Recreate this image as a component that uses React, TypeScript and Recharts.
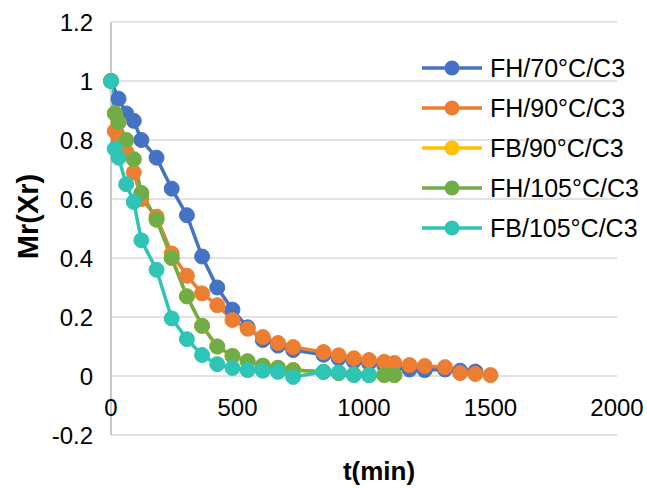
import { LineChart, Line, XAxis, YAxis, CartesianGrid, Legend } from 'recharts';

// sampling times (min) and Mr values
const fh70Times = [0, 30, 60, 90, 120, 180, 240, 300, 360, 420, 480, 540, 600, 660, 720, 840, 900, 960, 1020, 1080, 1120, 1180, 1240, 1320, 1380, 1440];
const fh70Values = [1, 0.94, 0.89, 0.865, 0.8, 0.74, 0.635, 0.545, 0.405, 0.3, 0.225, 0.165, 0.122, 0.103, 0.088, 0.072, 0.06, 0.05, 0.044, 0.037, 0.03, 0.022, 0.02, 0.022, 0.018, 0.015];

const fh90Times = [0, 15, 30, 60, 90, 120, 180, 240, 300, 360, 420, 480, 540, 600, 660, 720, 840, 900, 960, 1020, 1080, 1120, 1180, 1240, 1320, 1380, 1440, 1500];
const fh90Values = [1, 0.83, 0.8, 0.76, 0.69, 0.6, 0.54, 0.415, 0.34, 0.28, 0.24, 0.19, 0.16, 0.132, 0.112, 0.098, 0.081, 0.07, 0.06, 0.054, 0.048, 0.044, 0.037, 0.034, 0.03, 0.01, 0.007, 0.003];

// FB/90 sits right under FH/105 in the reference
const fb90Times = [0, 15, 30, 60, 90, 120, 180, 240, 300, 360, 420, 480, 540, 600, 660, 720, 840, 900, 960, 1020, 1080, 1120];
const fb90Values = [1, 0.89, 0.86, 0.8, 0.735, 0.62, 0.53, 0.4, 0.27, 0.17, 0.1, 0.068, 0.05, 0.035, 0.028, 0.02, 0.014, 0.01, 0.005, 0.003, 0.003, 0.003];

const fh105Times = [0, 15, 30, 60, 90, 120, 180, 240, 300, 360, 420, 480, 540, 600, 660, 720, 840, 900, 960, 1020, 1080, 1120];
const fh105Values = [1, 0.89, 0.86, 0.8, 0.735, 0.62, 0.53, 0.4, 0.27, 0.17, 0.1, 0.068, 0.05, 0.035, 0.028, 0.02, 0.014, 0.01, 0.005, 0.003, 0.003, 0.003];

const fb105Times = [0, 15, 30, 60, 90, 120, 180, 240, 300, 360, 420, 480, 540, 600, 660, 720, 840, 900, 960, 1020];
const fb105Values = [1, 0.77, 0.74, 0.65, 0.59, 0.46, 0.36, 0.195, 0.125, 0.071, 0.04, 0.027, 0.02, 0.018, 0.014, -0.003, 0.014, 0.012, 0.003, 0.003];

const xTicks = [0, 500, 1000, 1500, 2000];
const yTicks = [-0.2, 0, 0.2, 0.4, 0.6, 0.8, 1, 1.2];

const toPoints = (times: number[], values: number[]) => times.map((t, i) => ({ t, v: values[i] }));

const series = [
  { name: 'FH/70°C/C3', color: '#4472C4', data: toPoints(fh70Times, fh70Values) },
  { name: 'FH/90°C/C3', color: '#ED7D31', data: toPoints(fh90Times, fh90Values) },
  { name: 'FB/90°C/C3', color: '#FFC000', data: toPoints(fb90Times, fb90Values) },
  { name: 'FH/105°C/C3', color: '#70AD47', data: toPoints(fh105Times, fh105Values) },
  { name: 'FB/105°C/C3', color: '#2EC4B6', data: toPoints(fb105Times, fb105Values) },
];

const font = '"Liberation Sans", Arial, sans-serif';

const XTick = (props: any) => {
  const { x, y, payload } = props;
  return (
    <text x={x} y={y} dy={-27} textAnchor="middle" fontSize={24} fontFamily={font} fill="#000">
      {payload.value}
    </text>
  );
};

const LegendContent = () => (
  <div style={{ fontFamily: font, fontSize: 25, color: '#000' }}>
    {series.map((s) => (
      <div key={s.name} style={{ display: 'flex', alignItems: 'center', height: 40 }}>
        <svg width={62} height={20} style={{ marginRight: 7 }}>
          <line x1={1} y1={10} x2={61} y2={10} stroke={s.color} strokeWidth={3.5} />
          <circle cx={31} cy={10} r={7.5} fill={s.color} />
        </svg>
        <span style={{ whiteSpace: 'nowrap' }}>{s.name}</span>
      </div>
    ))}
  </div>
);

export default function App() {
  return (
    <div style={{ position: 'absolute', left: 0, top: 0, background: '#fff' }}>
      <LineChart width={647} height={488} margin={{ top: 22, right: 30, bottom: 0, left: 0 }}>
        <CartesianGrid vertical={false} stroke="#d9d9d9" strokeWidth={1.5} />
        <XAxis
          type="number"
          dataKey="t"
          domain={[0, 2000]}
          ticks={xTicks}
          height={53}
          axisLine={false}
          tickLine={false}
          tick={<XTick />}
          label={{ value: 't(min)', position: 'insideBottom', offset: 8, dx: 15, fontSize: 26, fontWeight: 'bold', fontFamily: font, fill: '#000' }}
        />
        <YAxis
          type="number"
          dataKey="v"
          domain={[-0.2, 1.2]}
          ticks={yTicks}
          width={111}
          stroke="#c8c8c8"
          strokeWidth={2}
          tickLine={false}
          tickSize={0}
          tickMargin={18}
          tick={{ fontSize: 24, fontFamily: font, fill: '#000' }}
          label={{ value: 'Mr(Xr)', angle: -90, position: 'insideLeft', offset: 28, dy: -12, fontSize: 29, fontWeight: 'bold', fontFamily: font, fill: '#000', style: { textAnchor: 'middle' } }}
        />
        <Legend
          layout="horizontal"
          align="center"
          verticalAlign="middle"
          content={<LegendContent />}
          wrapperStyle={{ left: 421, top: 48, width: 226 }}
        />
        {series.map((s) => (
          <Line
            key={s.name}
            data={s.data}
            dataKey="v"
            name={s.name}
            type="linear"
            stroke={s.color}
            strokeWidth={3.5}
            dot={{ r: 7.5, fill: s.color, stroke: s.color, strokeWidth: 1 }}
            isAnimationActive={false}
          />
        ))}
      </LineChart>
    </div>
  );
}
